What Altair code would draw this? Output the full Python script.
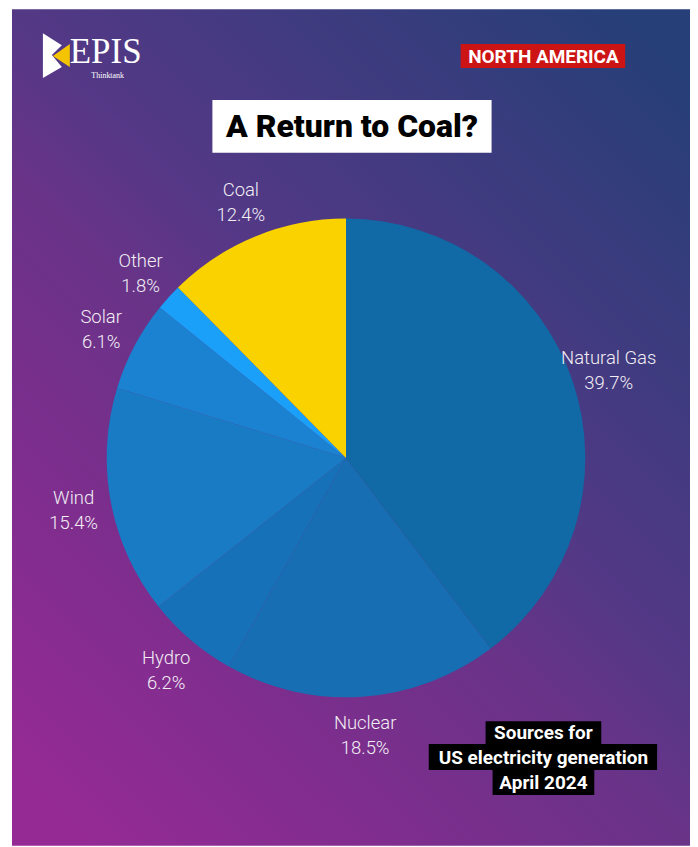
import altair as alt
import pandas as pd

# ---- data ----
sources = ["Natural Gas", "Nuclear", "Hydro", "Wind", "Solar", "Other", "Coal"]
shares = [39.7, 18.5, 6.2, 15.4, 6.1, 1.8, 12.4]
colors = ["#1169A5", "#176EB2", "#1771B8", "#187BC3", "#1B81D1", "#1AA0F8", "#F9D200"]

title_text = "A Return to Coal?"
region_text = "North America".upper()
note_lines = ["Sources for", "US electricity generation", "April 2024"]

df = pd.DataFrame({"source": sources, "share": shares, "order": list(range(len(sources)))})
df["label"] = [f"{s}\n{v:.1f}%" for s, v in zip(sources, shares)]

W, H = 684, 839
CX, CY, R = 339, 450, 240
BOLD = "Roboto, Inter, sans-serif"

one = pd.DataFrame({"a": [0]})


def deco_rect(x, x2, y, y2, color):
    return alt.Chart(one).mark_rect(color=color).encode(
        x=alt.value(x), x2=alt.value(x2), y=alt.value(y), y2=alt.value(y2)
    )


def deco_text(text, x, y, **kw):
    return alt.Chart(pd.DataFrame({"t": [text]})).mark_text(**kw).encode(
        text="t:N", x=alt.value(x), y=alt.value(y)
    )


bg = alt.Chart(one).mark_rect(
    fill=alt.Gradient(
        gradient="linear",
        stops=[
            alt.GradientStop(color="#962A95", offset=0),
            alt.GradientStop(color="#7C2E8D", offset=0.26),
            alt.GradientStop(color="#693388", offset=0.44),
            alt.GradientStop(color="#543886", offset=0.56),
            alt.GradientStop(color="#263F78", offset=1),
        ],
        x1=0.1, y1=1, x2=0.9, y2=0,
    )
).encode(x=alt.value(4), x2=alt.value(W), y=alt.value(0), y2=alt.value(H))

theta = alt.Theta("share:Q", stack=True)
order = alt.Order("order:O")

arcs = alt.Chart(df).mark_arc(radius=R).encode(
    theta=theta,
    order=order,
    color=alt.Color("source:N", scale=alt.Scale(domain=sources, range=colors), legend=None),
    x=alt.value(CX),
    y=alt.value(CY),
)

labels = alt.Chart(df).mark_text(
    radius=278, font="Roboto", fontWeight=300, fontSize=18.5, color="#F2EEF4",
    lineBreak="\n", lineHeight=25, align="center", baseline="middle", dy=-11,
).encode(theta=theta, order=order, text="label:N", x=alt.value(CX), y=alt.value(CY))

# title box
title_box = deco_rect(205, 485, 91, 144, "white")
title = deco_text(title_text, 345, 118, font=BOLD, fontSize=32, fontWeight=900,
                  color="black", align="center", baseline="middle")

# region tag
region_box = deco_rect(454, 619, 35, 59, "#CC1414")
region = deco_text(region_text, 537, 47.5, font=BOLD, fontSize=19, fontWeight="bold",
                   color="white", align="center", baseline="middle")

# logo
white_path = "M-0.565,-1L0.26,-0.478L-0.174,-0.043L0.26,0.478L-0.565,0.957Z"
yellow_path = "M-0.13,0L0.609,-0.522L0.609,0.478Z"
logo_w = alt.Chart(one).mark_point(shape=white_path, filled=True, color="white", opacity=1, size=2116).encode(
    x=alt.value(48), y=alt.value(47))
logo_y = alt.Chart(one).mark_point(shape=yellow_path, filled=True, color="#F5C400", opacity=1, size=2116).encode(
    x=alt.value(48), y=alt.value(47))
logo_t = deco_text("EPIS", 62, 54, font="Liberation Serif, DejaVu Serif, serif", fontSize=35,
                   color="white", align="left", baseline="alphabetic")
logo_s = deco_text("Thinktank", 100, 67, font="Liberation Serif, DejaVu Serif, serif", fontSize=8,
                   color="white", align="center", baseline="middle")

# note boxes
note_boxes = [
    deco_rect(479, 595, 714, 738, "black"),
    deco_rect(422, 651, 737, 763, "black"),
    deco_rect(486, 588, 762, 788, "black"),
]
note_y = [726, 751, 776]
note_texts = [
    deco_text(t, 537, y, font=BOLD, fontSize=19, fontWeight="bold", color="white",
              align="center", baseline="middle")
    for t, y in zip(note_lines, note_y)
]

chart = alt.layer(
    bg, arcs, labels, title_box, title, region_box, region,
    logo_w, logo_y, logo_t, logo_s, *note_boxes, *note_texts
).properties(
    width=W, height=H, padding=0, autosize=alt.AutoSizeParams(type="none")
).configure_view(stroke=None)

chart.save("out.html", embed_options={"renderer": "svg", "actions": False})
